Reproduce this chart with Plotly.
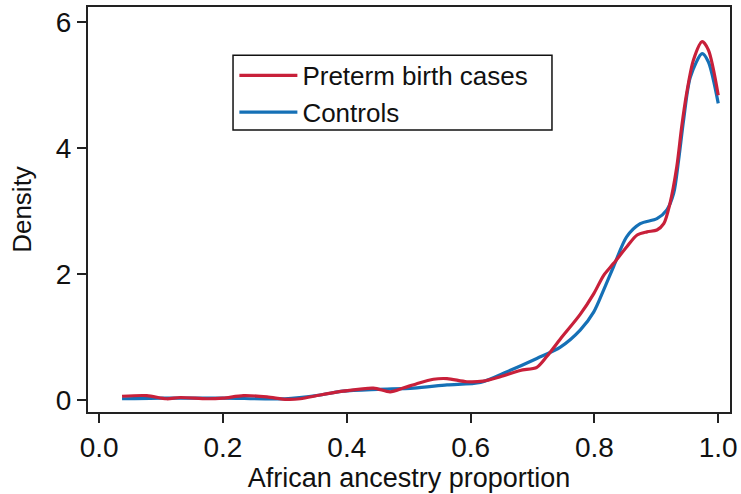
import plotly.graph_objects as go

# Kernel density estimates
red_x = [0.037, 0.077, 0.109, 0.131, 0.174, 0.2, 0.233, 0.271, 0.303, 0.325, 0.357, 0.394,
         0.443, 0.47, 0.491, 0.513, 0.54, 0.562, 0.594, 0.62, 0.648, 0.68, 0.707, 0.723,
         0.745, 0.777, 0.799, 0.815, 0.831, 0.852, 0.869, 0.885, 0.901, 0.912, 0.922,
         0.933, 0.941, 0.949, 0.960, 0.974, 0.984, 1.0]
red_y = [0.06, 0.07, 0.02, 0.04, 0.02, 0.03, 0.07, 0.05, 0.01, 0.02, 0.08, 0.14,
         0.19, 0.13, 0.19, 0.26, 0.33, 0.34, 0.29, 0.30, 0.37, 0.47, 0.52, 0.69,
         0.97, 1.36, 1.69, 1.98, 2.17, 2.43, 2.62, 2.67, 2.70, 2.80, 3.12,
         3.70, 4.34, 4.87, 5.40, 5.69, 5.56, 4.84]

blue_x = [0.037, 0.1, 0.2, 0.3, 0.357, 0.394, 0.45, 0.508, 0.562, 0.616, 0.659, 0.707,
          0.745, 0.777, 0.799, 0.815, 0.831, 0.852, 0.874, 0.901, 0.917, 0.928, 0.936,
          0.944, 0.955, 0.974, 0.984, 1.0]
blue_y = [0.02, 0.03, 0.03, 0.02, 0.08, 0.14, 0.17, 0.19, 0.24, 0.28, 0.45, 0.66,
          0.84, 1.11, 1.40, 1.75, 2.12, 2.59, 2.80, 2.88, 3.02, 3.28, 3.81,
          4.44, 5.13, 5.50, 5.37, 4.71]

x_ticks = [0.0, 0.2, 0.4, 0.6, 0.8, 1.0]
x_tick_labels = ["0.0", "0.2", "0.4", "0.6", "0.8", "1.0"]
y_ticks = [0, 2, 4, 6]
y_tick_labels = ["0", "2", "4", "6"]

RED = "#C8203A"
BLUE = "#1570B6"
FONT = "Liberation Sans, Arial, Helvetica, sans-serif"

fig = go.Figure()
fig.add_trace(go.Scatter(x=blue_x, y=blue_y, mode="lines", name="Controls",
                         line=dict(color=BLUE, width=3.2, shape="spline", smoothing=0.8),
                         legendrank=2))
fig.add_trace(go.Scatter(x=red_x, y=red_y, mode="lines", name="Preterm birth cases",
                         line=dict(color=RED, width=3.2, shape="spline", smoothing=0.8),
                         legendrank=1))

axis_common = dict(showline=True, mirror=True, linecolor="#222222", linewidth=2,
                   ticks="outside", ticklen=9, tickwidth=2, tickcolor="#222222",
                   showgrid=False, zeroline=False, automargin=False,
                   tickfont=dict(family=FONT, size=28, color="#111111"))

fig.update_layout(
    width=741, height=494,
    margin=dict(l=88, r=11, t=7, b=82),
    paper_bgcolor="white", plot_bgcolor="white",
    font=dict(family=FONT, color="#111111"),
    xaxis=dict(range=[-0.018, 1.019], tickvals=x_ticks, ticktext=x_tick_labels,
               title=dict(text="African ancestry proportion", font=dict(size=27), standoff=0),
               **axis_common),
    yaxis=dict(range=[-0.19, 6.24], tickvals=y_ticks, ticktext=y_tick_labels,
               title=dict(text="Density", font=dict(size=26), standoff=17),
               **axis_common),
    legend=dict(x=0.228, y=0.889, xanchor="left", yanchor="top",
                borderwidth=0, bgcolor="rgba(0,0,0,0)",
                font=dict(family=FONT, size=26, color="#111111"),
                itemwidth=58, tracegroupgap=0),
    showlegend=True,
    shapes=[dict(type="rect", xref="paper", yref="paper",
                 x0=0.2259, x1=0.7227, y0=0.696, y1=0.881,
                 line=dict(color="#111111", width=1.5), fillcolor="white", layer="below")],
)

fig.write_html("out.html", config={"displayModeBar": False},
               post_script="document.body.style.margin='0';")
